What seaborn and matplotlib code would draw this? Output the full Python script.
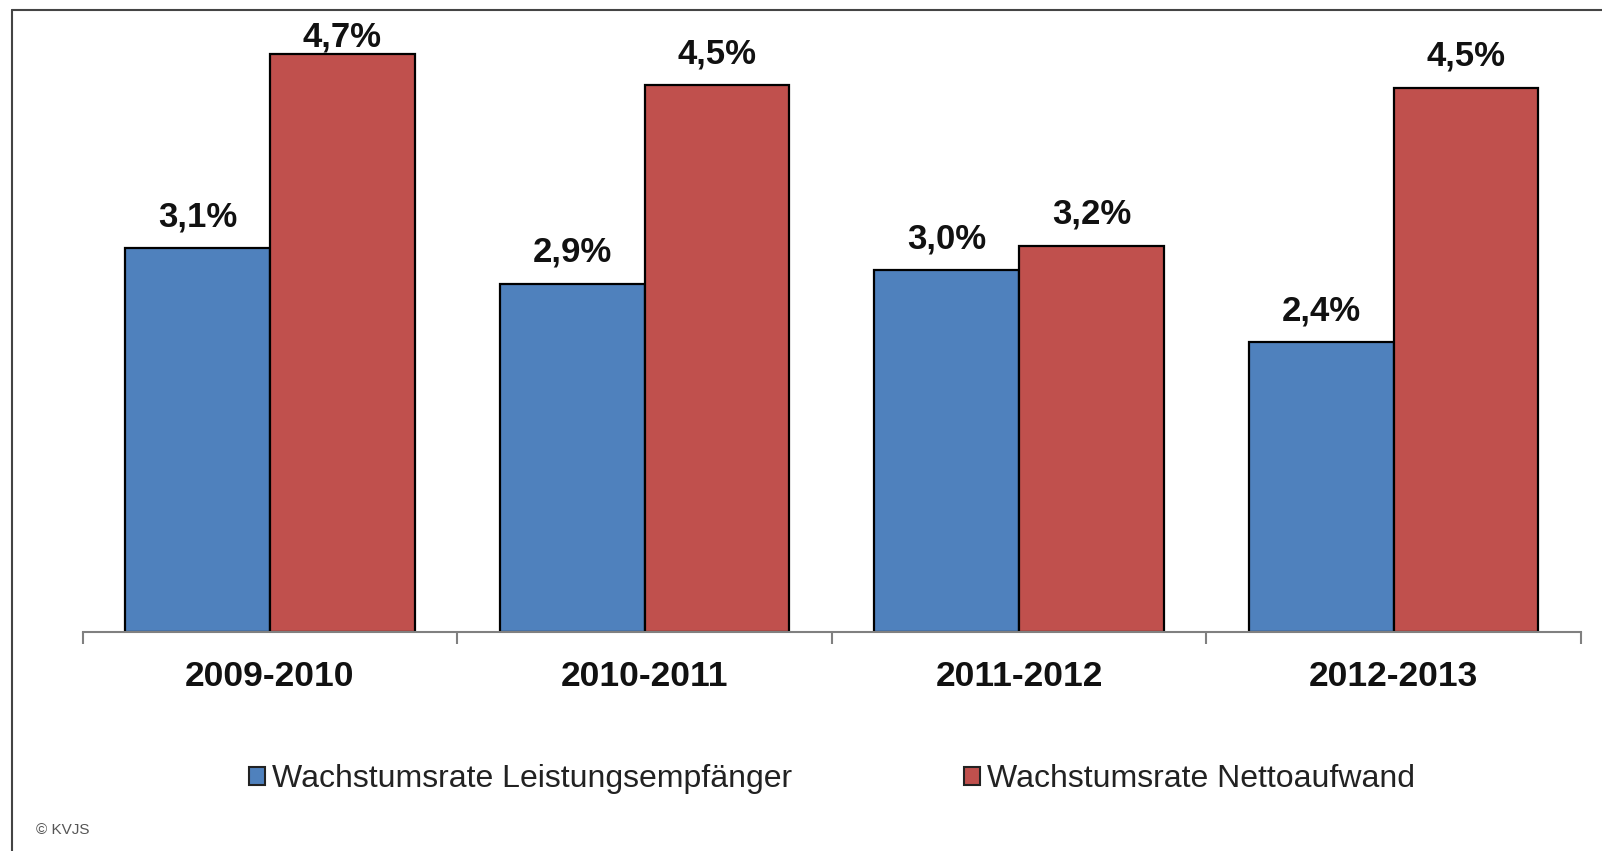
import numpy as np
import pandas as pd
import matplotlib.pyplot as plt
from matplotlib.lines import Line2D
import seaborn as sns

zeitraum = ['2009-2010', '2010-2011', '2011-2012', '2012-2013']
# Balkenhöhen, Beschriftungen gerundet wie im Original
leistungsempfaenger = [3.14, 2.85, 2.96, 2.37]
nettoaufwand = [4.73, 4.47, 3.16, 4.45]
label_leistung = ['3,1%', '2,9%', '3,0%', '2,4%']
label_netto = ['4,7%', '4,5%', '3,2%', '4,5%']
serien = ['Wachstumsrate Leistungsempfänger', 'Wachstumsrate Nettoaufwand']
farben = ['#4F81BD', '#C0504D']

df = pd.DataFrame({
    'zeitraum': zeitraum * 2,
    'wert': leistungsempfaenger + nettoaufwand,
    'serie': [serien[0]] * 4 + [serien[1]] * 4,
})

sns.set_style('white')
plt.rcParams['font.family'] = ['Liberation Sans', 'DejaVu Sans']

fig = plt.figure(figsize=(16.02, 8.51), dpi=100)
ax_pos = [0.0516, 0.257, 0.9353, 0.7318]
ax = fig.add_axes(ax_pos)

sns.barplot(data=df, x='zeitraum', y='wert', hue='serie', palette=farben,
            width=0.773, edgecolor='black', linewidth=1.6, saturation=1,
            ax=ax, legend=True)

ymax = 5.09
ax.set_ylim(0, ymax)
ax.set_xlim(-0.5, 3.5)

# Werte-Beschriftung; oberste Beschriftung wird wie im Original nach unten gedrückt
pt_per_unit = 851 * ax_pos[3] / ymax * 0.72
for cont, labels in zip(ax.containers, [label_leistung, label_netto]):
    for bar, lab in zip(cont, labels):
        h = bar.get_height()
        room = (ymax - h) * pt_per_unit - 31.5
        off = max(0.0, min(10.8, room))
        ax.annotate(lab, xy=(bar.get_x() + bar.get_width() / 2, h),
                    xytext=(0, off), textcoords='offset points',
                    ha='center', va='bottom', fontsize=25,
                    fontweight='bold', color='#111111')

ax.set_xlabel('')
ax.set_ylabel('')
ax.set_yticks([])
for s in ['top', 'right', 'left']:
    ax.spines[s].set_visible(False)
ax.spines['bottom'].set_color('#808080')
ax.spines['bottom'].set_linewidth(1.5)

ax.set_xticks(np.arange(len(zeitraum)))
ax.set_xticklabels(zeitraum, fontsize=25.5, fontweight='bold', color='#111111')
ax.tick_params(axis='x', which='major', length=0, pad=20)
ax.set_xticks(np.arange(-0.5, len(zeitraum)), minor=True)
ax.tick_params(axis='x', which='minor', length=8.5, width=1.5, color='#808080',
               direction='out', bottom=True)

leg = ax.legend(loc='center', bbox_to_anchor=(0.5, -0.236), ncol=2,
                frameon=False, fontsize=23, handlelength=0.5,
                handleheight=0.5, handletextpad=0.2, columnspacing=5.4)
for h in leg.legend_handles:
    h.set_edgecolor('#222222')
    h.set_linewidth(1.5)
for t in leg.get_texts():
    t.set_color('#222222')

fig.text(0.0225, 0.025, '© KVJS', fontsize=11, color='#555555',
         ha='left', va='center')

# Rahmen oben und links
fig.add_artist(Line2D([0.0075, 1.0], [0.9888, 0.9888], color='#444444',
                      linewidth=1.5, transform=fig.transFigure))
fig.add_artist(Line2D([0.0075, 0.0075], [0.0, 0.9888], color='#444444',
                      linewidth=1.5, transform=fig.transFigure))

fig.savefig('out.png', dpi=100)
